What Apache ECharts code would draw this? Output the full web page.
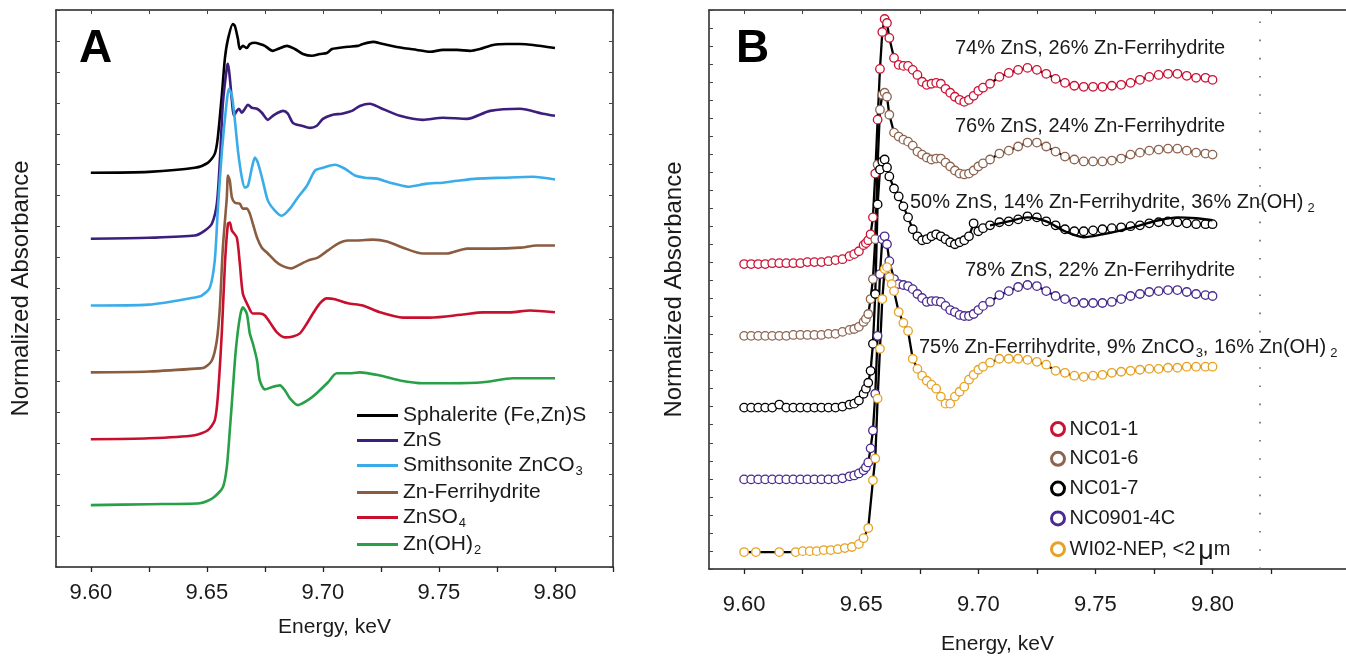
<!DOCTYPE html>
<html>
<head>
<meta charset="utf-8">
<title>Zn K-edge XANES</title>
<script src="https://cdn.jsdelivr.net/npm/echarts@6.0.0/dist/echarts.min.js"></script>
<style>
  html, body { margin: 0; padding: 0; background: #fff; }
  #main { width: 1346px; height: 660px; }
</style>
</head>
<body>
<div id="main"></div>
<script>
// ---- panel A: reference spectra [energy keV, normalized absorbance (offset)] ----
const sphalerite = [[9.600,12.74],[9.625,12.77],[9.6448,12.90],[9.6504,13.06],[9.6534,13.35],[9.6547,13.87],[9.6565,15.29],[9.6578,16.45],[9.6591,17.06],[9.6612,17.55],[9.6621,17.48],[9.6634,17.06],[9.6642,16.74],[9.6655,16.84],[9.6672,16.77],[9.6685,16.90],[9.6707,16.94],[9.6728,16.90],[9.6750,16.84],[9.6784,16.68],[9.6806,16.74],[9.6845,16.84],[9.6879,16.74],[9.6914,16.58],[9.6953,16.52],[9.6987,16.58],[9.7017,16.61],[9.7039,16.74],[9.7065,16.77],[9.7108,16.81],[9.7151,16.84],[9.7172,16.90],[9.7216,16.97],[9.7259,16.90],[9.7345,16.77],[9.7405,16.71],[9.7461,16.65],[9.7517,16.71],[9.7578,16.71],[9.7634,16.68],[9.7677,16.74],[9.7733,16.87],[9.7793,16.90],[9.7849,16.90],[9.7905,16.87],[9.8000,16.77]];
const zns = [[9.600,10.61],[9.625,10.64],[9.6448,10.71],[9.6491,10.87],[9.6522,11.10],[9.6543,11.74],[9.6556,13.13],[9.6569,14.97],[9.6586,16.13],[9.6591,16.26],[9.6599,15.81],[9.6608,15.06],[9.6616,14.58],[9.6629,14.74],[9.6638,14.81],[9.6651,14.68],[9.6664,14.81],[9.6677,14.94],[9.6694,14.84],[9.6716,14.81],[9.6737,14.68],[9.6763,14.45],[9.6784,14.58],[9.6806,14.68],[9.6828,14.74],[9.6849,14.65],[9.6871,14.35],[9.6909,14.26],[9.6944,14.19],[9.6974,14.26],[9.7000,14.48],[9.7039,14.61],[9.7082,14.65],[9.7125,14.74],[9.7159,14.90],[9.7203,14.97],[9.7246,14.84],[9.7332,14.58],[9.7431,14.45],[9.7517,14.52],[9.7621,14.48],[9.7720,14.74],[9.7849,14.81],[9.7948,14.65],[9.8000,14.58]];
const smithsonite = [[9.600,8.45],[9.625,8.48],[9.6448,8.71],[9.6478,8.77],[9.6513,9.03],[9.6534,9.90],[9.6547,11.52],[9.6565,13.45],[9.6586,15.06],[9.6595,15.45],[9.6608,15.23],[9.6621,14.42],[9.6634,13.45],[9.6651,12.58],[9.6664,12.26],[9.6677,12.32],[9.6694,12.90],[9.6707,13.23],[9.6720,13.06],[9.6741,12.48],[9.6763,11.84],[9.6793,11.52],[9.6823,11.35],[9.6858,11.58],[9.6892,11.94],[9.6931,12.32],[9.6966,12.81],[9.7000,12.90],[9.7052,13.00],[9.7095,12.87],[9.7138,12.65],[9.7181,12.58],[9.7233,12.55],[9.7289,12.42],[9.7366,12.29],[9.7448,12.39],[9.7517,12.42],[9.7578,12.48],[9.7664,12.55],[9.7776,12.58],[9.7905,12.61],[9.8000,12.52]];
const ferrihydrite = [[9.600,6.29],[9.625,6.32],[9.6470,6.42],[9.6491,6.45],[9.6522,6.68],[9.6543,7.32],[9.6556,8.39],[9.6569,10.32],[9.6586,11.94],[9.6591,12.65],[9.6599,12.48],[9.6608,11.94],[9.6621,11.77],[9.6642,11.74],[9.6655,11.58],[9.6672,11.58],[9.6685,11.42],[9.6698,11.10],[9.6716,10.65],[9.6737,10.32],[9.6763,10.13],[9.6793,9.90],[9.6823,9.74],[9.6866,9.65],[9.6892,9.74],[9.6935,9.90],[9.6978,10.00],[9.7022,10.23],[9.7065,10.45],[9.7108,10.55],[9.7147,10.55],[9.7216,10.58],[9.7276,10.52],[9.7345,10.32],[9.7431,10.13],[9.7534,10.13],[9.7621,10.29],[9.7733,10.29],[9.7849,10.32],[9.7922,10.39],[9.8000,10.39]];
const znso4 = [[9.600,4.13],[9.625,4.16],[9.6448,4.26],[9.6504,4.42],[9.6534,4.74],[9.6547,5.48],[9.6565,7.65],[9.6578,9.81],[9.6591,11.10],[9.6599,11.13],[9.6608,10.87],[9.6629,10.65],[9.6642,9.81],[9.6655,8.84],[9.6677,8.45],[9.6698,8.19],[9.6728,8.19],[9.6750,8.13],[9.6772,7.90],[9.6802,7.58],[9.6836,7.42],[9.6871,7.45],[9.6901,7.55],[9.6931,7.87],[9.6957,8.19],[9.6987,8.52],[9.7017,8.68],[9.7052,8.65],[9.7108,8.52],[9.7172,8.45],[9.7246,8.23],[9.7345,8.06],[9.7461,8.06],[9.7603,8.16],[9.7690,8.23],[9.7806,8.23],[9.7892,8.29],[9.8000,8.23]];
const znoh2 = [[9.600,2.00],[9.625,2.03],[9.6470,2.06],[9.6526,2.23],[9.6569,2.58],[9.6586,3.23],[9.6599,4.42],[9.6612,5.74],[9.6625,7.03],[9.6642,8.06],[9.6655,8.39],[9.6672,8.19],[9.6685,7.55],[9.6698,7.23],[9.6716,6.68],[9.6728,6.03],[9.6750,5.74],[9.6780,5.81],[9.6815,5.87],[9.6836,5.71],[9.6858,5.45],[9.6892,5.23],[9.6935,5.39],[9.6978,5.65],[9.7022,5.97],[9.7060,6.26],[9.7125,6.26],[9.7159,6.29],[9.7246,6.19],[9.7332,6.03],[9.7431,5.94],[9.7547,5.94],[9.7690,5.97],[9.7819,6.10],[9.8000,6.10]];

const refNames = ['Sphalerite (Fe,Zn)S', 'ZnS', 'Smithsonite ZnCO3', 'Zn-Ferrihydrite', 'ZnSO4', 'Zn(OH)2'];
const refColors = ['#000000', '#3c1e7c', '#3aacea', '#8a5c40', '#c8102e', '#27a048'];
const refSpectra = [sphalerite, zns, smithsonite, ferrihydrite, znso4, znoh2];

// ---- panel B: samples (markers) and LCF fits ----
const energyNC = [9.600,9.603,9.606,9.609,9.612,9.615,9.618,9.621,9.624,9.627,9.630,9.633,9.636,9.639,9.642,9.645,
  9.647,9.649,9.651,9.652,9.653,9.654,9.655,9.656,9.657,9.658,9.659,9.660,9.661,9.662,
  9.664,9.666,9.668,9.670,9.672,9.674,9.676,9.678,9.680,9.682,9.684,9.686,9.688,9.690,9.692,9.694,9.696,9.698,9.700,9.702,
  9.705,9.709,9.713,9.717,9.721,9.725,9.729,9.733,9.737,9.741,9.745,9.749,9.753,9.757,9.761,9.765,9.769,9.773,9.777,9.781,9.785,9.789,9.793,9.797,
  9.800];
const nc01_1 = [16.91,16.91,16.91,16.91,16.96,16.96,16.96,16.96,16.96,17.02,17.02,17.02,17.07,17.13,17.18,17.35,
  17.46,17.62,17.96,18.07,18.23,18.56,19.50,21.93,24.92,27.73,29.78,30.50,30.28,29.45,
  28.34,27.96,27.90,27.90,27.68,27.40,27.02,26.85,26.91,26.96,26.91,26.63,26.41,26.19,26.02,25.91,26.02,26.24,26.52,26.69,
  26.91,27.29,27.51,27.68,27.79,27.68,27.46,27.18,26.96,26.80,26.74,26.74,26.74,26.80,26.85,26.96,27.13,27.29,27.40,27.46,27.46,27.35,27.24,27.24,
  27.13];
const nc01_6 = [12.93,12.93,12.93,12.93,12.93,12.93,12.93,12.98,12.98,12.98,12.98,12.98,13.04,13.04,13.15,13.26,
  13.31,13.43,13.70,13.87,14.14,14.97,16.08,18.29,22.43,25.47,26.30,26.41,26.19,25.19,
  24.20,23.98,23.81,23.70,23.48,23.15,22.98,22.82,22.71,22.76,22.76,22.54,22.32,22.10,21.93,21.88,21.93,22.10,22.32,22.49,
  22.71,23.04,23.20,23.43,23.65,23.65,23.43,23.15,22.87,22.71,22.60,22.60,22.60,22.65,22.76,22.98,23.09,23.20,23.26,23.31,23.31,23.20,23.09,23.04,
  22.98];
const nc01_7 = [8.95,8.95,8.95,8.95,8.95,9.12,8.95,8.95,8.95,8.95,8.95,8.95,8.95,8.95,9.01,9.12,
  9.17,9.34,9.72,10.00,10.33,10.99,12.49,15.25,20.22,22.15,22.60,22.71,22.27,21.77,
  21.10,20.66,20.11,19.50,18.84,18.45,18.23,18.29,18.45,18.56,18.45,18.29,18.12,18.01,18.12,18.23,18.45,19.17,18.73,18.90,
  19.06,19.23,19.28,19.39,19.56,19.50,19.28,19.06,18.84,18.73,18.73,18.78,18.84,18.90,18.95,19.01,19.06,19.17,19.23,19.28,19.23,19.17,19.12,19.12,
  19.12];
const nc0901 = [4.97,4.97,4.97,4.97,4.97,4.97,4.97,4.97,4.97,4.97,4.97,4.97,4.97,4.97,5.03,5.14,
  5.19,5.30,5.47,5.64,5.91,6.69,7.68,9.72,12.93,16.35,18.29,18.45,18.01,17.07,
  16.08,15.80,15.75,15.69,15.52,15.25,15.03,14.81,14.86,14.86,14.81,14.59,14.36,14.25,14.09,14.03,14.03,14.14,14.36,14.59,
  14.81,15.19,15.41,15.64,15.75,15.69,15.41,15.14,14.97,14.81,14.75,14.75,14.75,14.81,14.97,15.14,15.25,15.36,15.41,15.47,15.47,15.36,15.25,15.19,
  15.14];
const energyWI = [9.600,9.605,9.615,9.622,9.625,9.628,9.631,9.634,9.637,9.640,9.643,9.646,9.649,9.651,9.653,
  9.655,9.656,9.657,9.658,9.659,9.660,9.661,9.662,9.663,9.664,
  9.666,9.668,9.670,9.672,9.674,9.676,9.678,9.680,9.682,9.684,9.686,9.688,9.690,9.692,9.694,9.696,9.698,9.700,9.702,
  9.705,9.709,9.713,9.717,9.721,9.725,9.729,9.733,9.737,9.741,9.745,9.749,9.753,9.757,9.761,9.765,9.769,9.773,9.777,9.781,9.785,9.789,9.793,9.797,
  9.800];
const wi02 = [0.94,0.94,0.94,0.94,0.99,0.99,0.99,1.05,1.05,1.10,1.16,1.22,1.38,1.71,2.27,
  4.92,6.13,9.45,12.21,14.97,16.63,16.74,16.19,15.80,15.41,
  14.25,13.65,13.20,11.66,11.10,10.72,10.44,10.22,10.00,9.56,9.17,9.17,9.56,9.83,10.11,10.50,10.77,11.05,11.22,
  11.44,11.66,11.66,11.66,11.60,11.49,11.33,10.99,10.88,10.72,10.66,10.72,10.77,10.88,10.94,10.99,11.05,11.10,11.10,11.16,11.16,11.22,11.22,11.22,
  11.22];
// NC01-7 fit drifts away from the data in the tail
const fitEnergy7 = [9.705,9.713,9.721,9.729,9.737,9.745,9.753,9.761,9.769,9.777,9.785,9.793,9.800];
const fit7 = [19.06,19.28,19.50,19.28,18.73,18.40,18.56,18.78,19.06,19.34,19.50,19.45,19.34];

const sampleNames = ['NC01-1', 'NC01-6', 'NC01-7', 'NC0901-4C', 'WI02-NEP, <2 μm'];
const sampleColors = ['#cc1133', '#8c6450', '#000000', '#4a2a90', '#e6a224'];
const sampleEnergy = [energyNC, energyNC, energyNC, energyNC, energyWI];
const sampleValues = [nc01_1, nc01_6, nc01_7, nc0901, wi02];

const tickVals = [9.6, 9.625, 9.65, 9.675, 9.7, 9.725, 9.75, 9.775, 9.8, 9.825];
const labelVals = [9.6, 9.65, 9.7, 9.75, 9.8];

const FONT = '"Liberation Sans", Arial, sans-serif';
const INK = '#1a1a1a';

function subText(name) {
  return '{n|' + name.replace(/(CO|SO|\))(\d)/g, '$1}{s|$2}{n|') + '}';
}
const richA = {
  n: { fontSize: 21, fontFamily: FONT, color: INK },
  s: { fontSize: 13, fontFamily: FONT, color: INK, padding: [12, 0, 0, 1] }
};

const chart = echarts.init(document.getElementById('main'));

function bottomAxis(grid, max, margin, gap, pad) {
  return {
    type: 'value', gridIndex: grid, min: 9.585, max: max, position: 'bottom',
    axisLine: { show: true, onZero: false, lineStyle: { color: '#222', width: 1.5 } },
    axisTick: { show: true, inside: false, length: 5, customValues: tickVals, lineStyle: { color: '#222', width: 1.3 } },
    axisLabel: { customValues: labelVals, formatter: v => v.toFixed(2), fontSize: 22, fontFamily: FONT, color: INK, margin: margin },
    splitLine: { show: false },
    name: 'Energy, keV', nameLocation: 'middle', nameGap: gap,
    nameTextStyle: { fontSize: 21, fontFamily: FONT, color: INK, padding: pad }
  };
}
function topAxis(grid, max) {
  return {
    type: 'value', gridIndex: grid, min: 9.585, max: max, position: 'top',
    axisLine: { show: true, onZero: false, lineStyle: { color: '#222', width: 1.5 } },
    axisTick: { show: true, inside: true, length: 4, customValues: tickVals, lineStyle: { color: '#444' } },
    axisLabel: { show: false }, splitLine: { show: false }
  };
}
function sideAxis(grid, max, pos, named) {
  return {
    type: 'value', gridIndex: grid, min: 0, max: max, interval: 1, position: pos,
    axisLine: { show: true, onZero: false, lineStyle: { color: '#222', width: 1.5 } },
    axisTick: { show: true, inside: true, length: 4, lineStyle: { color: '#444' } },
    axisLabel: { show: false }, splitLine: { show: false },
    name: named ? 'Normalized Absorbance' : '', nameLocation: 'middle', nameGap: 23,
    nameTextStyle: { fontSize: 24, fontFamily: FONT, color: INK }
  };
}

const refSeries = refNames.map((name, k) => ({
  type: 'line', name: name, xAxisIndex: 0, yAxisIndex: 0,
  data: refSpectra[k], symbol: 'none', smooth: 0.25,
  itemStyle: { color: refColors[k] },
  lineStyle: { color: refColors[k], width: 2.6 }
}));

const sampleSeries = sampleNames.map((name, k) => ({
  type: 'line', name: name, xAxisIndex: 2, yAxisIndex: 2,
  data: sampleEnergy[k].map((e, i) => [e, sampleValues[k][i]]),
  symbol: 'circle', symbolSize: 8.5, showAllSymbol: true,
  itemStyle: { color: '#ffffff', borderColor: sampleColors[k], borderWidth: 1.3 },
  lineStyle: { color: '#000', width: 2.3 },
  z: 3
}));
sampleSeries[4].markLine = {
  silent: true, symbol: 'none', label: { show: false },
  lineStyle: { color: '#666', width: 1.6, type: [1.6, 16.6], dashOffset: 0 },
  data: [{ xAxis: 9.825 }]
};
const fitSeries = {
  type: 'line', name: 'NC01-7 fit', xAxisIndex: 2, yAxisIndex: 2,
  data: fitEnergy7.map((e, i) => [e, fit7[i]]), symbol: 'none', smooth: 0.3,
  lineStyle: { color: '#000', width: 2.4 }, z: 4
};

const fitLabels = [
  { text: '{n|74% ZnS, 26% Zn-Ferrihydrite}', x: 955, y: 38 },
  { text: '{n|76% ZnS, 24% Zn-Ferrihydrite}', x: 955, y: 116 },
  { text: '{n|50% ZnS, 14% Zn-Ferrihydrite, 36% Zn(OH)}{t|2}', x: 910, y: 190 },
  { text: '{n|78% ZnS, 22% Zn-Ferrihydrite}', x: 965, y: 260 },
  { text: '{n|75% Zn-Ferrihydrite, 9% ZnCO}{s|3}{n|, 16% Zn(OH)}{t|2}', x: 919, y: 335 }
];
const richG = {
  n: { fontSize: 20, fontFamily: FONT, fill: INK },
  s: { fontSize: 13, fontFamily: FONT, fill: INK, padding: [12, 0, 0, 1] },
  t: { fontSize: 13, fontFamily: FONT, fill: INK, padding: [12, 0, 0, 4] }
};

const option = {
  animation: false,
  backgroundColor: '#ffffff',
  grid: [
    { left: 56, top: 10, width: 557, height: 557 },
    { left: 709, top: 10, right: 0, height: 561 }
  ],
  xAxis: [
    bottomAxis(0, 9.825, 15, 50, [0, 0, 0, 0]),
    topAxis(0, 9.825),
    bottomAxis(1, 9.857, 25, 65, [0, 60, 0, 0]),
    topAxis(1, 9.857)
  ],
  yAxis: [
    sideAxis(0, 18, 'left', true),
    sideAxis(0, 18, 'right', false),
    sideAxis(1, 31, 'left', true)
  ],
  legend: [
    {
      data: refNames, orient: 'vertical', left: 352, top: 400,
      icon: 'rect', itemWidth: 41, itemHeight: 3, itemGap: 4,
      formatter: subText, selectedMode: false,
      textStyle: { fontSize: 21, fontFamily: FONT, color: INK, rich: richA }
    },
    {
      data: sampleNames.map((n, k) => ({ name: n, itemStyle: { color: '#fff', borderColor: sampleColors[k], borderWidth: 3 } })),
      orient: 'vertical', left: 1045, top: 414,
      icon: 'circle', itemWidth: 13, itemHeight: 13, itemGap: 9.8, selectedMode: false,
      formatter: n => n.indexOf('μ') > 0 ? '{n|WI02-NEP, <2}{m|μ}{n|m}' : '{n|' + n + '}',
      textStyle: {
        fontSize: 20, fontFamily: FONT, color: INK,
        rich: {
          n: { fontSize: 20, fontFamily: FONT, color: INK },
          m: { fontSize: 27, fontFamily: FONT, color: INK, padding: [5, 0, 0, 3] }
        }
      }
    }
  ],
  graphic: [
    { type: 'text', x: 79, y: 26, style: { text: 'A', font: 'bold 46px ' + FONT, fill: '#000' } },
    { type: 'text', x: 736, y: 26, style: { text: 'B', font: 'bold 46px ' + FONT, fill: '#000' } }
  ].concat(fitLabels.map(l => ({
    type: 'text', x: l.x, y: l.y, z: 10,
    style: { text: l.text, rich: richG, font: '20px ' + FONT, fill: INK }
  }))),
  series: refSeries.concat(sampleSeries, [fitSeries])
};

chart.setOption(option);
</script>
</body>
</html>
